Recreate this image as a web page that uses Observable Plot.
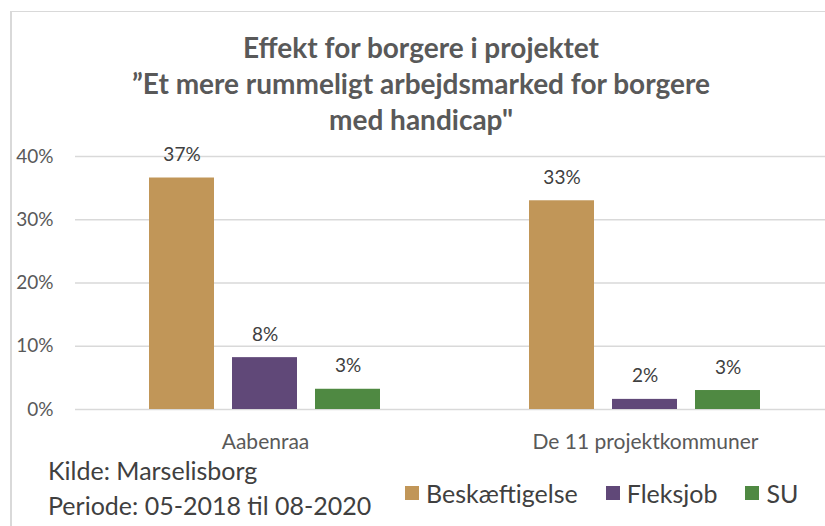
<!DOCTYPE html>
<html><head><meta charset="utf-8">
<script src="https://cdn.jsdelivr.net/npm/d3@7"></script>
<script src="https://cdn.jsdelivr.net/npm/@observablehq/plot@0.6"></script>
<style>
html,body{margin:0;padding:0;background:#fff;overflow:hidden;width:825px;height:526px;}
#root{position:relative;width:825px;height:526px;overflow:hidden;font-family:Lato,"Open Sans",sans-serif;}
#frame{position:absolute;left:10px;top:11px;width:900px;height:600px;border-left:2px solid #d9d9d9;border-top:1px solid #d9d9d9;}
#title{position:absolute;left:0;top:29px;width:842px;text-align:center;font-weight:bold;font-size:28px;line-height:36px;color:#595959;}
#chart{position:absolute;left:0;top:130px;width:835px;}
#chart svg{max-width:none;}
#source{position:absolute;left:48px;top:453px;font-size:25px;line-height:35px;color:#404040;}
#legend{position:absolute;left:405px;top:476px;height:34px;display:flex;align-items:center;font-size:25px;color:#404040;}
#legend .item{display:flex;align-items:center;margin-right:28px;}
#legend .sw{width:14px;height:14px;margin-right:7px;}
</style></head>
<body><div id="root">
<div id="frame"></div>
<div id="title">Effekt for borgere i projektet<br>”Et mere rummeligt arbejdsmarked for borgere<br>med handicap"</div>
<div id="chart"></div>
<div id="source">Kilde: Marselisborg<br>Periode: 05-2018 til 08-2020</div>
<div id="legend"></div>
</div>
<script>
const groups = ["Aabenraa", "De 11 projektkommuner"];
const series = ["Beskæftigelse", "Fleksjob", "SU"];
const aabenraaValues = [36.6, 8.2, 3.2];
const kommunerValues = [33.0, 1.6, 3.0];
const yTicks = [0, 10, 20, 30, 40];
const seriesColors = ["#C19658", "#604878", "#4F8942"];

const data = [];
series.forEach((s, i) => {
  data.push({group: groups[0], series: s, value: aabenraaValues[i]});
  data.push({group: groups[1], series: s, value: kommunerValues[i]});
});

const chart = Plot.plot({
  width: 835,
  height: 330,
  marginLeft: 75,
  marginRight: 0,
  marginTop: 26,
  marginBottom: 51,
  style: {fontFamily: "Lato, 'Open Sans', sans-serif", color: "#595959", background: "transparent", maxWidth: "none"},
  fx: {domain: groups, padding: 0, label: null, axis: "bottom", tickSize: 0, tickPadding: 25},
  x: {domain: series, paddingInner: 0.214, paddingOuter: 0.869, axis: null},
  y: {domain: [0, 40], ticks: yTicks, tickFormat: d => d + "%", label: null, tickSize: 0, tickPadding: 22},
  color: {domain: series, range: seriesColors},
  marks: [
    Plot.ruleY(yTicks, {stroke: "#d9d9d9", strokeWidth: 1.5}),
    Plot.barY(data, {fx: "group", x: "series", y: "value", fill: "series"}),
    Plot.text(data, {fx: "group", x: "series", y: "value", text: d => Math.round(d.value) + "%", dy: -23, fontSize: 19, fill: "#404040"})
  ]
});
chart.style.maxWidth = "none";
chart.querySelectorAll("[aria-label='y-axis tick label']").forEach(g => g.setAttribute("font-size", "19"));
chart.querySelectorAll("[aria-label='fx-axis tick label']").forEach(g => g.setAttribute("font-size", "21"));
document.getElementById("chart").appendChild(chart);

const legend = document.getElementById("legend");
series.forEach((s, i) => {
  const item = document.createElement("div");
  item.className = "item";
  const sw = document.createElement("div");
  sw.className = "sw";
  sw.style.background = seriesColors[i];
  const lab = document.createElement("span");
  lab.textContent = s;
  item.appendChild(sw); item.appendChild(lab);
  legend.appendChild(item);
});
</script>
</body></html>
